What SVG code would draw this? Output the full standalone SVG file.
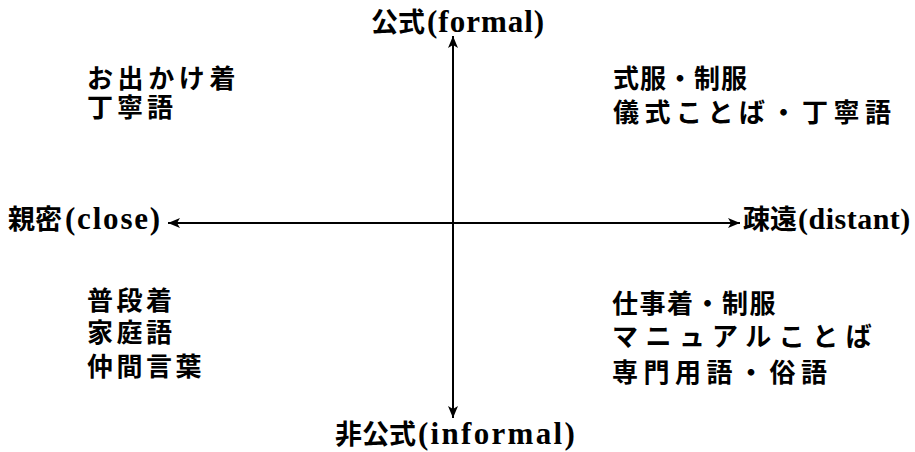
<svg xmlns="http://www.w3.org/2000/svg" width="915" height="452" viewBox="0 0 915 452">
<style>
.jp{font-family:"Noto Sans CJK JP","Noto Sans CJK SC",sans-serif;font-weight:bold;font-size:26px;fill:#000}
.ax{font-size:27px}
.lat{font-family:"Liberation Serif",serif;font-weight:bold;font-size:31px;letter-spacing:1px}
.axis{stroke:#000;stroke-width:2;fill:none}
</style>
<defs>
<marker id="ah" viewBox="0 0 12 10" refX="12" refY="5" markerWidth="12" markerHeight="10" markerUnits="userSpaceOnUse" orient="auto-start-reverse">
<path d="M0,0 L12,5 L0,10 L3,5 Z" fill="#000"/>
</marker>
</defs>
<rect width="915" height="452" fill="#fff"/>
<g id="connectors">
<line class="axis" x1="453" y1="36" x2="453" y2="418" marker-start="url(#ah)" marker-end="url(#ah)"/>
<line class="axis" x1="168" y1="223" x2="740" y2="223" marker-start="url(#ah)" marker-end="url(#ah)"/>
</g>
<g id="formal"><text class="jp ax" x="371" y="32">公式<tspan class="lat" dx="2">(formal)</tspan></text></g>
<g id="informal"><text class="jp ax" x="335" y="444">非公式<tspan class="lat" dx="2" style="letter-spacing:2.3px">(informal)</tspan></text></g>
<g id="close"><text class="jp ax" x="8" y="229">親密<tspan class="lat" dx="3" style="letter-spacing:1.8px">(close)</tspan></text></g>
<g id="distant"><text class="jp ax" x="743" y="229">疎遠<tspan class="lat" dx="1" style="letter-spacing:0.5px;font-size:30px">(distant)</tspan></text></g>
<g id="top-left">
<text class="jp" x="87" y="88" letter-spacing="4.6">お出かけ着</text>
<text class="jp" x="87" y="117" letter-spacing="4">丁寧語</text>
</g>
<g id="top-right">
<text class="jp" x="613" y="88" letter-spacing="1">式服・制服</text>
<text class="jp" x="613" y="122" letter-spacing="5.5">儀式ことば・丁寧語</text>
</g>
<g id="bottom-left">
<text class="jp" x="87" y="310" letter-spacing="3.5">普段着</text>
<text class="jp" x="87" y="342" letter-spacing="3.5">家庭語</text>
<text class="jp" x="87" y="376" letter-spacing="3.5">仲間言葉</text>
</g>
<g id="bottom-right">
<text class="jp" x="612" y="313" letter-spacing="1.5">仕事着・制服</text>
<text class="jp" x="612" y="346" letter-spacing="7.5">マニュアルことば</text>
<text class="jp" x="612" y="382" letter-spacing="5.5">専門用語・俗語</text>
</g>
</svg>
